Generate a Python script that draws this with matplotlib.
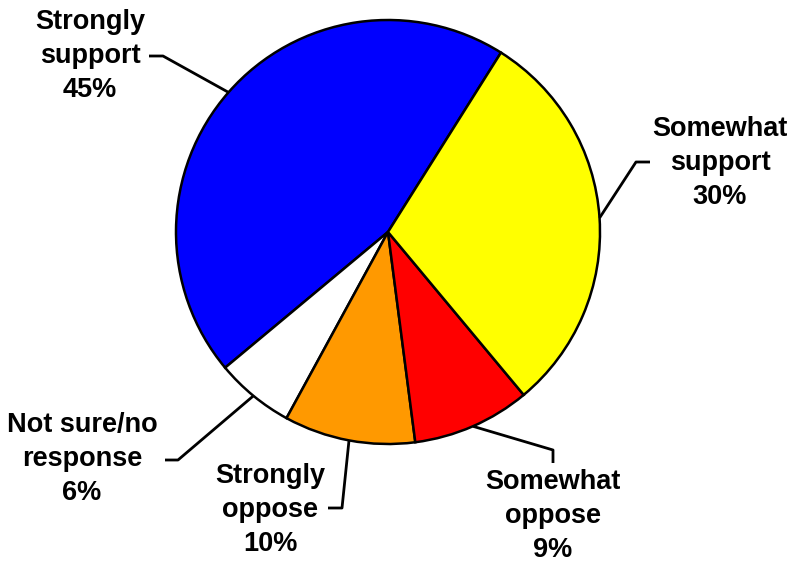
import numpy as np
import matplotlib.pyplot as plt

plt.rcParams['font.family'] = ['Liberation Sans', 'DejaVu Sans']

# slices, counterclockwise from the blue/yellow boundary
labels = ["Strongly\nsupport", "Not sure/no\nresponse", "Strongly\noppose",
          "Somewhat\noppose", "Somewhat\nsupport"]
values = [45, 6, 10, 9, 30]
colors = ["#0000FF", "#FFFFFF", "#FF9900", "#FF0000", "#FFFF00"]

start = 57.8

# label layout in pixels: text centre, elbow, end of short horizontal tick
text_px = [(90, 56), (82, 459), (270, 510), (553, 516), (720, 163)]
elbow_px = [(163, 56), (178, 460), (342, 508), (553, 450), (636, 162)]
tick_px = [(149, 56), (165, 460), (328, 508), (553, 463), (650, 162)]

W, H = 804, 565
cx, cy, R = 388, 232, 212


def to_data(p):
    return (p[0] - cx) / R, (cy - p[1]) / R


fig = plt.figure(figsize=(W / 100, H / 100), dpi=100)
ax = fig.add_axes([0, 0, 1, 1])

wedges, _ = ax.pie(values, colors=colors, startangle=start, counterclock=True,
                   radius=1, wedgeprops=dict(edgecolor="black", linewidth=1.8))

ax.set_xlim(-cx / R, (W - cx) / R)
ax.set_ylim(-(H - cy) / R, cy / R)
ax.set_aspect("equal")
ax.axis("off")

for w, lab, v, t, e, k in zip(wedges, labels, values, text_px, elbow_px, tick_px):
    mid = np.deg2rad((w.theta1 + w.theta2) / 2)
    x0, y0 = np.cos(mid), np.sin(mid)
    ex, ey = to_data(e)
    kx, ky = to_data(k)
    ax.plot([x0, ex, kx], [y0, ey, ky], color="black", lw=2, solid_capstyle="butt")
    tx, ty = to_data(t)
    ax.text(tx, ty, f"{lab}\n{v}%", ha="center", va="center", multialignment="center",
            fontsize=19.5, fontweight="bold", linespacing=1.4)

fig.savefig("out.png", dpi=100)
